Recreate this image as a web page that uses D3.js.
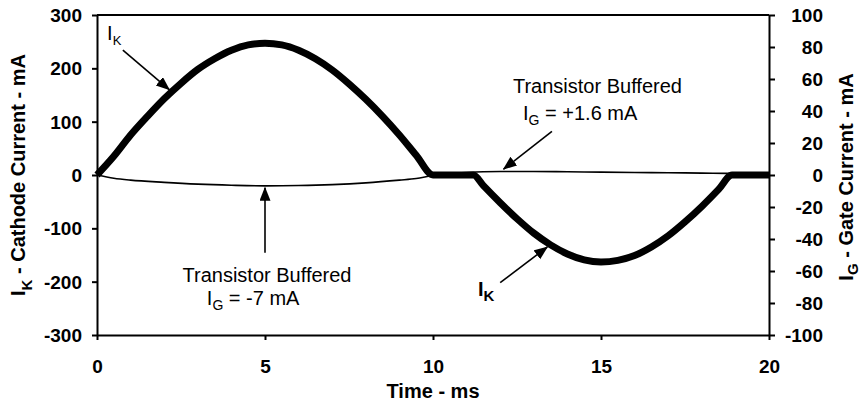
<!DOCTYPE html>
<html>
<head>
<meta charset="utf-8">
<script src="https://cdn.jsdelivr.net/npm/d3@7/dist/d3.min.js"></script>
<style>
  body { margin: 0; background: #fff; }
  svg { display: block; font-family: 'Liberation Sans', Arial, sans-serif; }
  .tick text { font-size: 19px; font-weight: bold; fill: #000; }
  .axis-label { font-size: 20px; font-weight: bold; fill: #000; }
  .note { font-size: 20px; fill: #000; }
</style>
</head>
<body>
<svg width="862" height="404"></svg>
<script>
// cathode current I_K (mA)
const timeK = [0, 0.5, 1, 1.5, 2, 2.5, 3, 3.5, 4, 4.5, 5, 5.5, 6, 6.5, 7, 7.5, 8, 8.5, 9, 9.5, 10,
  11.2, 11.5, 12, 12.5, 13, 13.5, 14, 14.5, 15, 15.5, 16, 16.5, 17, 17.5, 18, 18.5, 18.9, 20];
const cathodeCurrent = [0, 35, 75, 110, 143, 172, 198, 218, 234, 244, 247, 244, 234, 218, 197, 171, 142, 110, 75, 37, 0,
  0, -20, -52, -82, -109, -131, -148, -159, -163, -160, -151, -135, -114, -88, -59, -27, 0, 0];

// gate current I_G (mA), right axis
const timeG = [0, 0.5, 1, 2, 3, 4, 5, 6, 7, 8, 9, 9.5, 10, 10.5, 11, 11.5, 12, 13, 14, 15, 16, 17, 18, 19, 20];
const gateCurrent = [0, -2, -3.2, -4.6, -5.7, -6.4, -6.8, -6.6, -6, -4.9, -3.2, -2.2, -0.3, 0.8, 1.5, 2, 2.2, 2.2, 2, 1.8, 1.6, 1.4, 1.2, 1, 1];

const xTicks = [0, 5, 10, 15, 20];
const leftTicks = [-300, -200, -100, 0, 100, 200, 300];
const rightTicks = [-100, -80, -60, -40, -20, 0, 20, 40, 60, 80, 100];

const svg = d3.select('svg');
const margin = { top: 15, right: 93, bottom: 69, left: 97 };
const width = +svg.attr('width');
const height = +svg.attr('height');
const innerWidth = width - margin.left - margin.right;
const innerHeight = height - margin.top - margin.bottom;

const xScale = d3.scaleLinear().domain([0, 20]).range([0, innerWidth]);
const yScale = d3.scaleLinear().domain([-300, 300]).range([innerHeight, 0]);
const yScaleG = d3.scaleLinear().domain([-100, 100]).range([innerHeight, 0]);

const g = svg.append('g')
  .attr('transform', `translate(${margin.left}, ${margin.top})`);

// arrow head
svg.append('defs').append('marker')
  .attr('id', 'arrow')
  .attr('markerUnits', 'userSpaceOnUse')
  .attr('markerWidth', 14).attr('markerHeight', 12)
  .attr('refX', 13).attr('refY', 5.5)
  .attr('orient', 'auto')
  .append('path')
  .attr('d', 'M0,0 L14,5.5 L0,11 Z')
  .attr('fill', '#000');

const fmt = d => String(d);

// axes
const xAxisG = g.append('g')
  .attr('transform', `translate(0, ${innerHeight})`)
  .call(d3.axisBottom(xScale).tickValues(xTicks).tickFormat(fmt).tickSize(5).tickSizeOuter(0).tickPadding(19));
xAxisG.selectAll('.tick text').attr('dy', 13.5);

const yAxisG = g.append('g')
  .call(d3.axisLeft(yScale).tickValues(leftTicks).tickFormat(fmt).tickSize(5).tickSizeOuter(0).tickPadding(10));

const yAxisGR = g.append('g')
  .attr('transform', `translate(${innerWidth}, 0)`)
  .call(d3.axisRight(yScaleG).tickValues(rightTicks).tickFormat(fmt).tickSize(6).tickSizeOuter(0).tickPadding(10));
yAxisGR.selectAll('.tick text').attr('text-anchor', 'end').attr('x', 54);
yAxisG.selectAll('.tick text').attr('dy', 6.5);
yAxisGR.selectAll('.tick text').attr('dy', 6.5);

[xAxisG, yAxisG, yAxisGR].forEach(a => a.attr('font-size', null).attr('font-family', null));
g.selectAll('.domain, .tick line').attr('stroke', '#000').attr('stroke-width', 2);

// top border
g.append('line')
  .attr('x1', 0).attr('x2', innerWidth)
  .attr('y1', 0).attr('y2', 0)
  .attr('stroke', '#000').attr('stroke-width', 2);

// lines
const lineK = d3.line()
  .x((d, i) => xScale(timeK[i]))
  .y(d => yScale(d))
  .curve(d3.curveMonotoneX);

const lineG = d3.line()
  .x((d, i) => xScale(timeG[i]))
  .y(d => yScaleG(d))
  .curve(d3.curveMonotoneX);

g.append('path')
  .attr('d', lineG(gateCurrent))
  .attr('fill', 'none')
  .attr('stroke', '#000')
  .attr('stroke-width', 1.6);

g.append('path')
  .attr('d', lineK(cathodeCurrent))
  .attr('fill', 'none')
  .attr('stroke', '#000')
  .attr('stroke-width', 7)
  .attr('stroke-linejoin', 'round');

// axis titles
const leftTitle = svg.append('text')
  .attr('class', 'axis-label')
  .attr('text-anchor', 'middle')
  .attr('transform', 'translate(25, 175) rotate(-90)');
leftTitle.append('tspan').text('I');
leftTitle.append('tspan').attr('font-size', 15).attr('dy', 7).text('K');
leftTitle.append('tspan').attr('dy', -7).text(' - Cathode Current - mA');

const rightTitle = svg.append('text')
  .attr('class', 'axis-label')
  .attr('text-anchor', 'middle')
  .attr('transform', 'translate(853, 177) rotate(-90)');
rightTitle.append('tspan').text('I');
rightTitle.append('tspan').attr('font-size', 15).attr('dy', 5).text('G');
rightTitle.append('tspan').attr('dy', -5).text(' - Gate Current - mA');

svg.append('text')
  .attr('class', 'axis-label')
  .attr('text-anchor', 'middle')
  .attr('x', margin.left + innerWidth / 2)
  .attr('y', 398)
  .text('Time - ms');

// annotations (in data units of the left axis)
const arrows = [
  { x1: 0.77, y1: 234, x2: 2.15, y2: 160 },
  { x1: 13.54, y1: 82, x2: 12.1, y2: 11 },
  { x1: 5, y1: -146, x2: 5, y2: -24 },
  { x1: 12.0, y1: -202, x2: 13.4, y2: -135 }
];

g.selectAll('.arrow').data(arrows).enter().append('line')
  .attr('class', 'arrow')
  .attr('x1', d => xScale(d.x1)).attr('y1', d => yScale(d.y1))
  .attr('x2', d => xScale(d.x2)).attr('y2', d => yScale(d.y2))
  .attr('stroke', '#000').attr('stroke-width', 1.6)
  .attr('marker-end', 'url(#arrow)');

const subLabel = (x, y, main, sub, rest, cls, size, subSize, shift) => {
  const t = g.append('text')
    .attr('class', cls)
    .attr('x', xScale(x)).attr('y', yScale(y))
    .attr('font-size', size);
  t.append('tspan').text(main);
  t.append('tspan').attr('font-size', subSize).attr('dy', shift).text(sub);
  if (rest) t.append('tspan').attr('dy', -shift).text(rest);
  return t;
};

subLabel(0.3, 253, 'I', 'K', null, 'note', 18, 13, 5);
subLabel(11.34, -227, 'I', 'K', null, 'axis-label', 20, 15, 5);

g.append('text').attr('class', 'note')
  .attr('x', xScale(12.38)).attr('y', yScale(154))
  .text('Transistor Buffered');
subLabel(12.68, 103, 'I', 'G', ' = +1.6 mA', 'note', 20, 14, 5);

g.append('text').attr('class', 'note')
  .attr('text-anchor', 'middle')
  .attr('x', xScale(5.06)).attr('y', yScale(-200))
  .text('Transistor Buffered');
subLabel(3.27, -244, 'I', 'G', ' = -7 mA', 'note', 20, 14, 5);
</script>
</body>
</html>
